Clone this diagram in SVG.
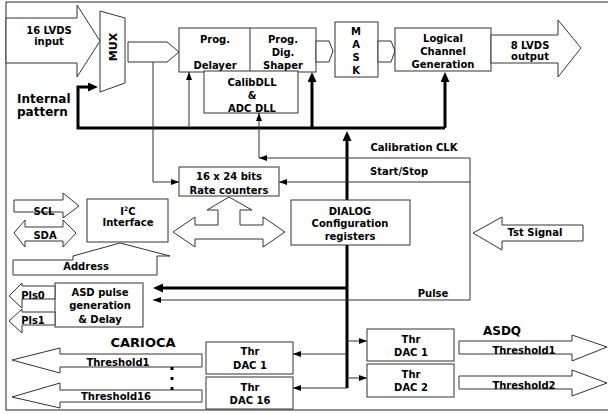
<svg xmlns="http://www.w3.org/2000/svg" width="608" height="414" viewBox="0 0 608 414">
<style>
text{font-family:"DejaVu Sans",Verdana,sans-serif;font-weight:bold;font-size:10px;fill:#000;text-anchor:middle}
.box{fill:#fff;stroke:#333;stroke-width:1}
.shape{fill:#fff;stroke:#333;stroke-width:1}
.thin{fill:none;stroke:#333;stroke-width:1}
.thick{fill:none;stroke:#000;stroke-width:3}
.big{font-size:12px}
.ca{font-size:13px}
</style>
<defs>
<marker id="at" viewBox="0 0 8 6" refX="8" refY="3" markerWidth="8" markerHeight="6" orient="auto" markerUnits="userSpaceOnUse"><path d="M0,0 L8,3 L0,6 z" fill="#000"/></marker>
<marker id="ak" viewBox="0 0 10 9" refX="6" refY="4.5" markerWidth="10" markerHeight="9" orient="auto" markerUnits="userSpaceOnUse"><path d="M0,0 L10,4.5 L0,9 z" fill="#000"/></marker>
</defs>
<rect width="608" height="414" fill="#fff"/>
<path d="M608,2 H6 V410 H608" fill="none" stroke="#222" stroke-width="1"/>

<g id="connectors">
<path class="thick" d="M445,128 H78 V87 H94" marker-end="url(#ak)"/>
<path class="thick" d="M445,128 V76" marker-end="url(#ak)"/>
<path class="thick" d="M312,128 V76" marker-end="url(#ak)"/>
<path class="thin" d="M189,128 V72" marker-end="url(#at)"/>
<path class="thick" d="M347,388 V135" marker-end="url(#ak)"/>
<path class="thin" d="M153,62 V182 H179" marker-end="url(#at)"/>
<path class="thin" d="M470,158 H259" marker-end="url(#at)"/>
<path class="thin" d="M259,158 V113" marker-end="url(#at)"/>
<path class="thin" d="M470,182 H279" marker-end="url(#at)"/>
<path class="thin" d="M470,158 V300"/>
<path class="thin" d="M470,300 H153" marker-end="url(#at)"/>
<path class="thick" d="M347,288 H157" marker-end="url(#ak)"/>
<path class="thin" d="M347,354 H293" marker-end="url(#at)"/>
<path class="thin" d="M347,388 H293" marker-end="url(#at)"/>
<path class="thin" d="M347,341 H367" marker-end="url(#at)"/>
<path class="thin" d="M347,378 H367" marker-end="url(#at)"/>
</g>

<g id="input16">
<polygon class="shape" points="6,18 77,18 77,5 100,41 77,77 77,63 6,63"/>
<text x="49" y="34">16 LVDS</text>
<text x="49" y="45">input</text>
</g>

<g id="mux">
<polygon class="shape" points="100,11 125,18 125,83 100,92"/>
<text transform="translate(117,47) rotate(-90)" style="font-size:11px">MUX</text>
</g>

<g id="mux-out">
<polygon class="shape" points="128,42 167,42 179,52 167,62 128,62"/>
</g>

<g id="internal-pattern">
<text class="big" x="17" y="103" style="text-anchor:start">Internal</text>
<text class="big" x="17" y="116" style="text-anchor:start">pattern</text>
</g>

<g id="prog">
<rect class="box" x="179" y="28" width="137" height="44"/>
<line class="thin" x1="250" y1="28" x2="250" y2="72"/>
<text x="215" y="43">Prog.</text>
<text x="215" y="69">Delayer</text>
<text x="283" y="43">Prog.</text>
<text x="283" y="56">Dig.</text>
<text x="283" y="69">Shaper</text>
</g>

<g id="calibdll">
<rect class="box" x="204" y="71" width="94" height="42"/>
<text x="252" y="86">CalibDLL</text>
<text x="252" y="99">&amp;</text>
<text x="252" y="112">ADC DLL</text>
</g>

<g id="prog-out">
<polygon class="shape" points="316,41 329,41 333,51 329,62 316,62"/>
</g>

<g id="mask">
<rect class="box" x="335" y="22" width="43" height="55"/>
<text x="356" y="35">M</text>
<text x="356" y="48">A</text>
<text x="356" y="61">S</text>
<text x="356" y="74">K</text>
</g>

<g id="mask-out">
<polygon class="shape" points="378,41 391,41 395,51 391,62 378,62"/>
</g>

<g id="logical">
<rect class="box" x="395" y="28" width="96" height="43"/>
<text x="443" y="42">Logical</text>
<text x="443" y="55">Channel</text>
<text x="443" y="68">Generation</text>
</g>

<g id="output8">
<polygon class="shape" points="491,35 558,35 558,20 581,48 558,77 558,63 491,63"/>
<text x="530" y="49">8 LVDS</text>
<text x="530" y="60">output</text>
</g>

<g id="labels">
<text x="414" y="151">Calibration CLK</text>
<text x="399" y="175">Start/Stop</text>
<text x="433" y="297">Pulse</text>
</g>

<g id="rate-counters">
<rect class="box" x="179" y="167" width="100" height="29"/>
<text x="229" y="180">16 x 24 bits</text>
<text x="229" y="194">Rate counters</text>
</g>

<g id="bus-arrow">
<polygon class="shape" points="173,232 195,217 195,225 218,225 218,210 207,210 229,197 252,210 240,210 240,225 263,225 263,217 285,232 263,247 263,239 195,239 195,247"/>
</g>

<g id="i2c">
<rect class="box" x="87" y="199" width="81" height="43"/>
<text x="128" y="215">I<tspan style="font-size:6px" dy="-4">2</tspan><tspan dy="4">C</tspan></text>
<text x="128" y="226">Interface</text>
</g>

<g id="scl">
<polygon class="shape" points="14,200 63,200 63,193 79,206 63,218 63,212 14,212"/>
<text x="44" y="215">SCL</text>
</g>

<g id="sda">
<polygon class="shape" points="14,233 25,220 25,227 63,227 63,220 76,233 63,247 63,241 25,241 25,247"/>
<text x="45" y="239">SDA</text>
</g>

<g id="address">
<polygon class="shape" points="13,260 73,260 73,256 120,243 170,256 157,256 157,275 13,275"/>
<text x="86" y="270">Address</text>
</g>

<g id="dialog">
<rect class="box" x="291" y="200" width="119" height="45"/>
<text x="350" y="215">DIALOG</text>
<text x="350" y="227">Configuration</text>
<text x="350" y="240">registers</text>
</g>

<g id="tst-signal">
<polygon class="shape" points="473,233 502,217 502,225 583,225 583,241 502,241 502,250"/>
<text x="535" y="236">Tst Signal</text>
</g>

<g id="asd-pulse">
<rect class="box" x="55" y="283" width="88" height="44"/>
<text x="100" y="296">ASD pulse</text>
<text x="100" y="309">generation</text>
<text x="100" y="323">&amp; Delay</text>
</g>

<g id="pls0">
<polygon class="shape" points="55,286 22,286 22,283 9,296 22,308 22,299 55,299"/>
<text x="33" y="299">Pls0</text>
</g>

<g id="pls1">
<polygon class="shape" points="55,312 22,312 22,309 9,321 22,333 22,325 55,325"/>
<text x="33" y="324">Pls1</text>
</g>

<g id="carioca">
<text class="ca" x="143" y="347">CARIOCA</text>
<polygon class="shape" points="202,354 60,354 60,348 12,360 60,373 60,367 202,367"/>
<text x="118" y="366">Threshold1</text>
<polygon class="shape" points="202,390 60,390 60,383 12,397 60,408 60,402 202,402"/>
<text x="116" y="400">Threshold16</text>
<rect x="170.5" y="367" width="3" height="3" fill="#000"/>
<rect x="170.5" y="377" width="3" height="3" fill="#000"/>
<rect x="170.5" y="387" width="3" height="3" fill="#000"/>
</g>

<g id="thr-dac-c1">
<rect class="box" x="206" y="342" width="87" height="32"/>
<text x="250" y="355">Thr</text>
<text x="250" y="369">DAC 1</text>
</g>

<g id="thr-dac-c16">
<rect class="box" x="206" y="377" width="87" height="32"/>
<text x="250" y="391">Thr</text>
<text x="250" y="404">DAC 16</text>
</g>

<g id="asdq">
<text class="big" x="502" y="335">ASDQ</text>
</g>

<g id="thr-dac-a1">
<rect class="box" x="367" y="329" width="87" height="32"/>
<text x="411" y="343">Thr</text>
<text x="411" y="356">DAC 1</text>
</g>

<g id="thr-dac-a2">
<rect class="box" x="367" y="364" width="87" height="33"/>
<text x="411" y="378">Thr</text>
<text x="411" y="391">DAC 2</text>
</g>

<g id="asdq-thr1">
<polygon class="shape" points="459,341 572,341 572,335 607,347 572,361 572,354 459,354"/>
<text x="524" y="354">Threshold1</text>
</g>

<g id="asdq-thr2">
<polygon class="shape" points="459,376 572,376 572,370 607,383 572,396 572,389 459,389"/>
<text x="524" y="389">Threshold2</text>
</g>
</svg>
